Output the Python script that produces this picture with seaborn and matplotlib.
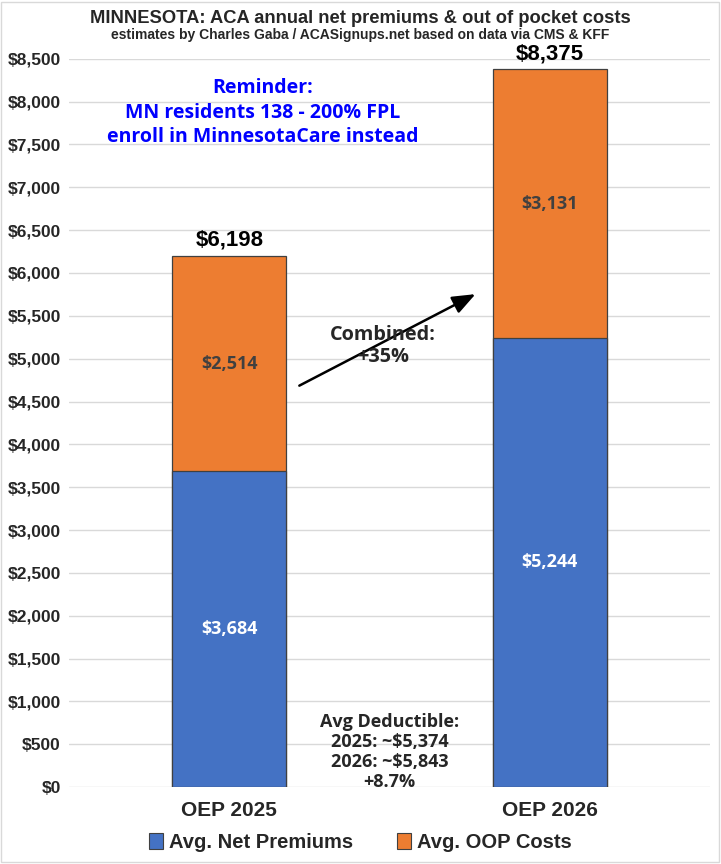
import matplotlib
matplotlib.use('Agg')
import matplotlib.pyplot as plt
import seaborn as sns
import pandas as pd
from matplotlib.patches import Patch

categories = ['OEP 2025', 'OEP 2026']
net_premiums = [3684, 5244]
oop_costs = [2514, 3131]
totals = [p + o for p, o in zip(net_premiums, oop_costs)]
series_names = ['Avg. Net Premiums', 'Avg. OOP Costs']
yticks = list(range(0, 8501, 500))

blue = '#4472C4'
orange = '#ED7D31'
narrow = ['Liberation Sans Narrow', 'Liberation Sans', 'DejaVu Sans']
calibri = ['Open Sans', 'Lato', 'DejaVu Sans']

sns.set_style('white')
plt.rcParams['font.family'] = narrow

df = pd.DataFrame({'cat': categories, 'prem': net_premiums, 'oop': oop_costs, 'total': totals})

fig = plt.figure(figsize=(7.21, 8.64), dpi=100)
ax = fig.add_axes([0.0957, 0.089, 0.889, 0.843])

# stacked: total (orange) drawn first, premiums (blue) over it
sns.barplot(data=df, x='cat', y='total', color=orange, width=0.356, saturation=1,
            edgecolor='#404040', linewidth=0.9, ax=ax, zorder=2)
sns.barplot(data=df, x='cat', y='prem', color=blue, width=0.356, saturation=1,
            edgecolor='#404040', linewidth=0.9, ax=ax, zorder=3)

ax.set_ylim(0, 8500)
ax.set_xlim(-0.5, 1.5)
ax.set_yticks(yticks)
ax.set_yticklabels([f'${v:,}' for v in yticks], fontsize=12.5, fontweight='bold')
ax.set_xticks(range(len(categories)))
ax.set_xticklabels(categories, fontsize=15, fontweight='bold')
ax.tick_params(axis='both', length=0, pad=6)
ax.tick_params(axis='x', pad=10)
ax.set_xlabel('')
ax.set_ylabel('')
ax.grid(axis='y', color='#d9d9d9', linewidth=1, zorder=0)
ax.set_axisbelow(True)
for s in ax.spines.values():
    s.set_visible(False)

for i in range(len(categories)):
    ax.text(i, net_premiums[i] / 2, f'${net_premiums[i]:,}', ha='center', va='center',
            color='white', fontsize=13, fontweight='bold', family=calibri, zorder=5)
    ax.text(i, net_premiums[i] + oop_costs[i] / 2, f'${oop_costs[i]:,}', ha='center', va='center',
            color='#404040', fontsize=13, fontweight='bold', family=calibri, zorder=5)
    ax.text(i, totals[i] + 60, f'${totals[i]:,}', ha='center', va='bottom',
            color='black', fontsize=16, fontweight='bold', zorder=5)

ax.text(0.105, 7870, 'Reminder:\nMN residents 138 - 200% FPL\nenroll in MinnesotaCare instead',
        ha='center', va='center', color='#0000FF', fontsize=14, fontweight='bold',
        family=calibri, linespacing=1.3)

ax.annotate('', xy=(0.776, 5768), xytext=(0.211, 4670),
            arrowprops=dict(arrowstyle='-|>,head_length=1.4,head_width=0.55', color='black', lw=1.8))
ax.text(0.48, 5150, 'Combined:\n+35%', ha='center', va='center', fontsize=14.3,
        fontweight='bold', family=calibri, linespacing=1.15, zorder=6)

ax.text(0.5, 410, 'Avg Deductible:\n2025: ~$5,374\n2026: ~$5,843\n+8.7%', ha='center', va='center',
        fontsize=13, fontweight='bold', family=calibri, linespacing=1.15, zorder=6)

fig.text(0.5, 0.979, 'MINNESOTA: ACA annual net premiums & out of pocket costs', ha='center', va='center',
         fontsize=13.2, fontweight='bold')
fig.text(0.5, 0.959, 'estimates by Charles Gaba / ACASignups.net based on data via CMS & KFF', ha='center',
         va='center', fontsize=10, fontweight='bold')

handles = [Patch(facecolor=blue, edgecolor='#404040', lw=0.8),
           Patch(facecolor=orange, edgecolor='#404040', lw=0.8)]
fig.legend(handles, series_names, loc='center', bbox_to_anchor=(0.5, 0.025), ncol=2, frameon=False,
           prop={'size': 14.5, 'weight': 'bold', 'family': narrow},
           handlelength=0.7, handleheight=0.9, handletextpad=0.3, columnspacing=2.2)

fig.patches.append(plt.Rectangle((0.001, 0.002), 0.996, 0.996, transform=fig.transFigure,
                                 fill=False, edgecolor='#d9d9d9', lw=1))

fig.savefig('out.png', dpi=100)
